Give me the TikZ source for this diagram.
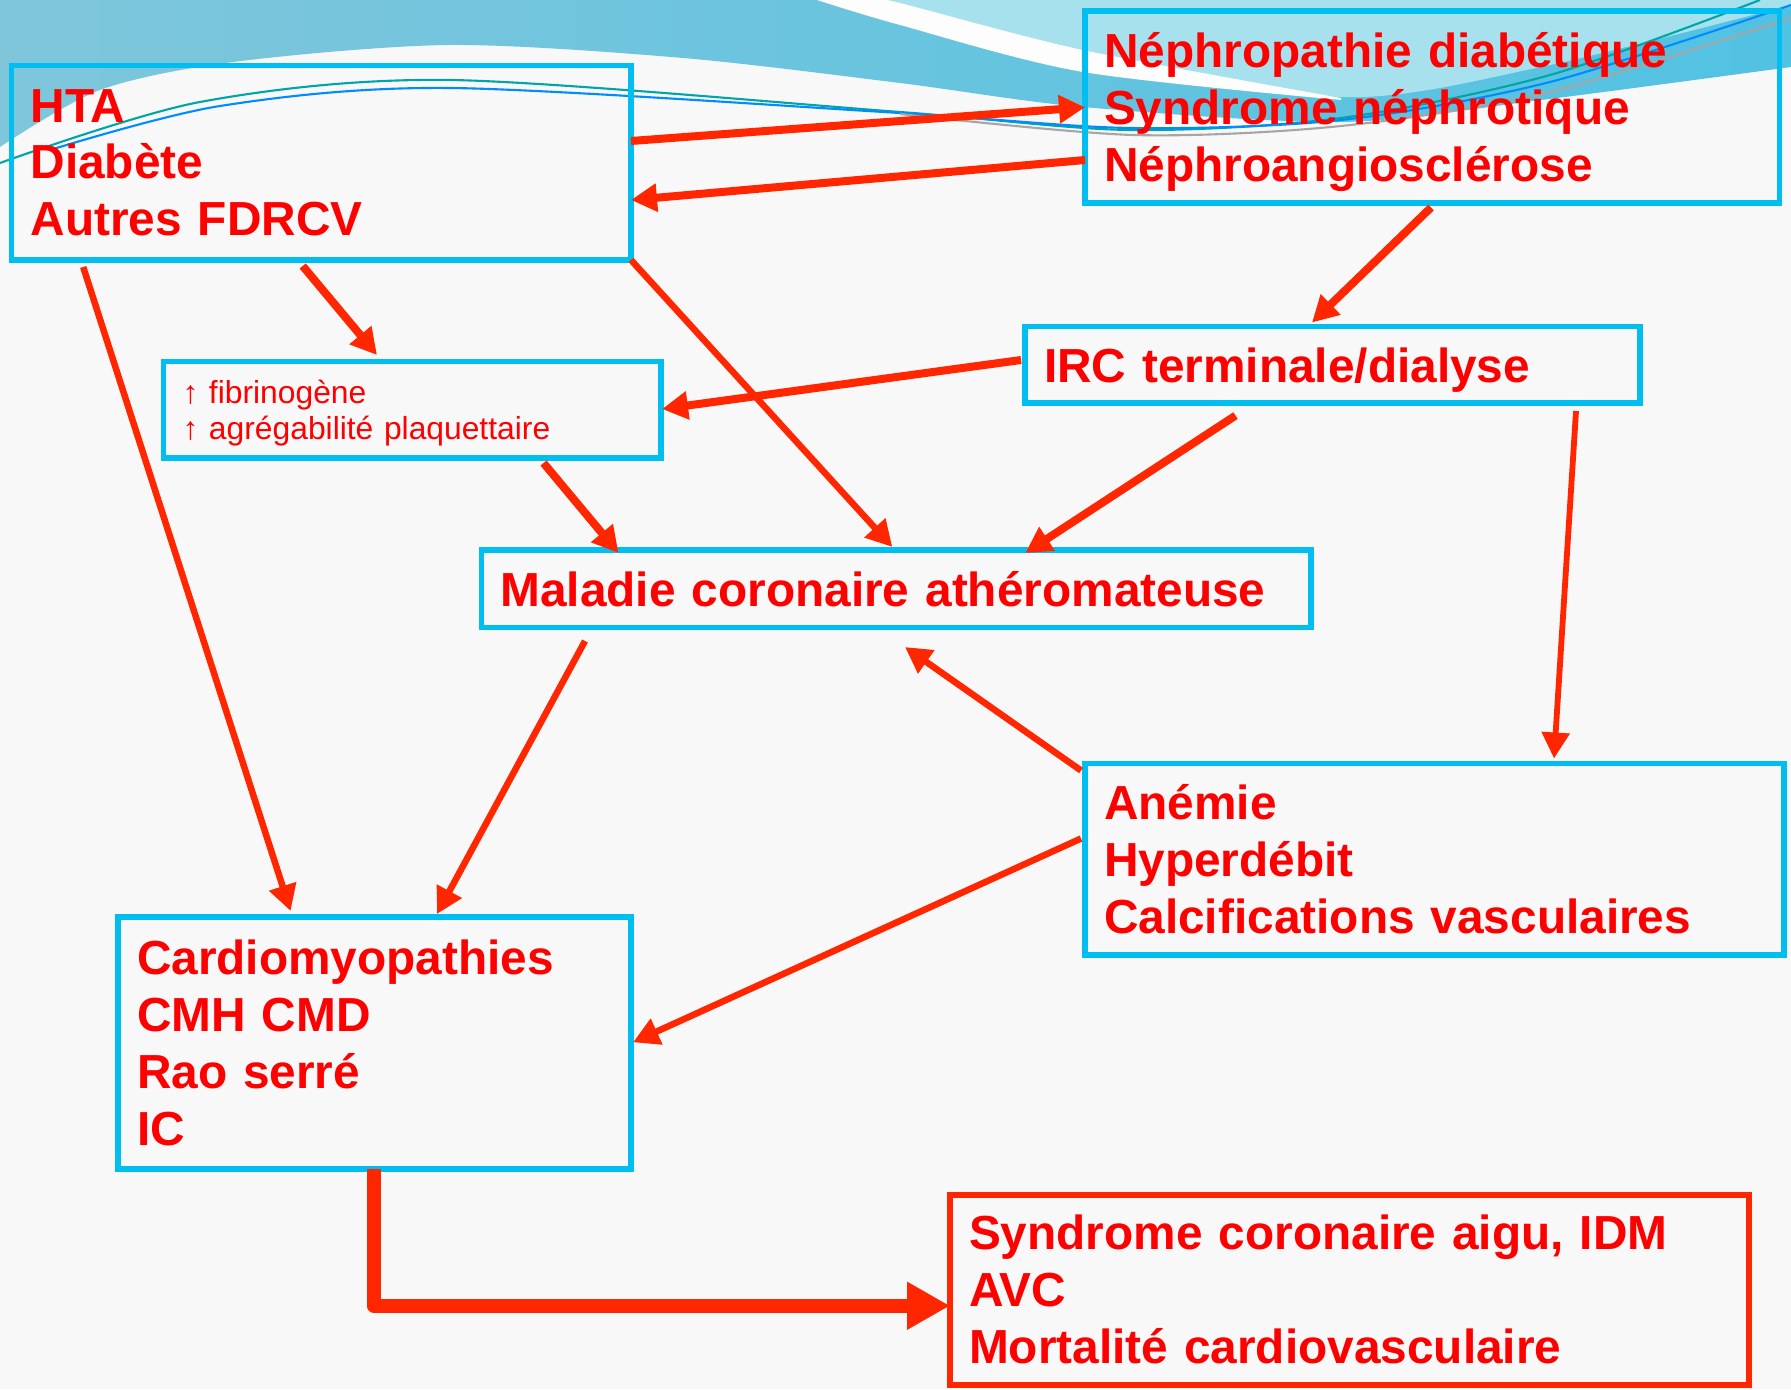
\documentclass[tikz,border=0pt]{standalone}
\usepackage{fontspec}
\setmainfont{Liberation Sans}
\usepackage{tikz}
\usetikzlibrary{arrows.meta}
\definecolor{txtred}{RGB}{255,0,0}
\definecolor{arrred}{RGB}{255,38,0}
\definecolor{boxblue}{RGB}{0,190,240}
\definecolor{bgcol}{RGB}{248,248,248}
\definecolor{swoopa}{RGB}{127,198,219}
\definecolor{swoopb}{RGB}{125,211,230}
\definecolor{swoopc}{RGB}{82,194,226}
\definecolor{swoopd}{RGB}{168,225,238}

\begin{document}
\begin{tikzpicture}[
  box/.style={draw=boxblue, line width=0.055cm, anchor=north west, outer sep=0pt,
    inner xsep=0.19cm, inner ysep=0pt, align=left, text=txtred,
    font=\bfseries\fontsize{13.6}{16.2}\selectfont},
  smallbox/.style={box, font=\fontsize{9.05}{10.4}\selectfont},
  redbox/.style={box, draw=arrred, line width=0.06cm},
  arr/.style={draw=arrred, line width=0.08cm, -{Triangle[length=0.26cm,width=0.27cm]}},
  thinarr/.style={arr, line width=0.065cm},
  bigarr/.style={draw=arrred, line width=0.145cm, line join=round, -{Triangle[length=0.43cm,width=0.45cm]}},
  swline/.style={line width=0.6pt}
]
\useasboundingbox (0,0) rectangle (17.91,-13.89);
\fill[bgcol] (0,0) rectangle (17.91,-13.89);
\shade[left color=swoopa, middle color=swoopb, right color=swoopc]
  (0,0) -- plot[smooth] coordinates {(0,-1.47) (1,-0.9) (2.33,-0.62) (4.5,-0.45) (6.83,-0.58) (9,-0.83) (10.83,-1.07) (13.41,-1.22) (15.41,-1.0) (17.91,-0.67)} -- (17.91,0) -- cycle;
\fill[swoopd] (8.8,0) -- plot[smooth] coordinates {(9,-0.03) (10.83,-0.5) (13.41,-0.97) (15.41,-0.67) (17.91,-0.05)} -- (17.91,0) -- cycle;
\fill[white!70!bgcol] plot[smooth] coordinates {(8.17,0) (9,-0.25) (10.83,-0.72) (13.41,-1.0)} -- plot[smooth] coordinates {(13.41,-0.98) (10.83,-0.5) (9,-0.03) (8.8,0)} -- cycle;
\draw[swline, teal!70!cyan] plot[smooth] coordinates {(0,-1.63) (2.0,-1.02) (4.5,-0.80) (9,-1.12) (11.3,-1.3) (13.41,-1.18) (15.5,-0.75) (17.6,0)};
\draw[swline, blue!45!cyan] plot[smooth] coordinates {(0.5,-1.5) (2.2,-1.06) (4.5,-0.88) (9,-1.13) (11.3,-1.28) (13.41,-1.2) (15.5,-0.82) (17.91,-0.05)};
\draw[swline, gray!70] plot[smooth] coordinates {(9,-1.14) (11.33,-1.35) (13.41,-1.26) (15.5,-0.92) (17.91,-0.18)};

\node[box, text width=5.815cm, minimum height=1.945cm] (risk) at (0.115,-0.655) {HTA\\Diabète\\Autres FDRCV};
\node[box, text width=6.565cm, minimum height=1.92cm] (nephro) at (10.85,-0.11) {Néphropathie diabétique\\Syndrome néphrotique\\\smash{Néphroangiosclérose}};
\node[box, text width=5.77cm, minimum height=0.765cm, text depth=0pt] (irc) at (10.25,-3.265) {IRC terminale/dialyse};
\node[smallbox, text width=4.595cm, minimum height=0.965cm] (fibri) at (1.635,-3.615) {↑ fibrinogène\\\smash{↑ agrégabilité plaquettaire}};
\node[box, text width=7.915cm, minimum height=0.775cm] (corona) at (4.815,-5.50) {Maladie coronaire athéromateuse};
\node[box, text width=6.61cm, minimum height=1.915cm] (anemie) at (10.85,-7.635) {Anémie\\Hyperdébit\\Calcifications vasculaires};
\node[box, text width=4.75cm, minimum height=2.52cm] (cardio) at (1.18,-9.17) {Cardiomyopathies\\CMH CMD\\Rao serré\\IC};
\node[redbox, text width=7.61cm, minimum height=1.905cm] (events) at (9.50,-11.945) {Syndrome coronaire aigu, IDM\\AVC\\Mortalité cardiovasculaire};

\draw[arr] ([yshift=-0.755cm]risk.north east) -- ([yshift=-0.963cm]nephro.north west);
\draw[arr] ([yshift=-1.49cm]nephro.north west) -- ([yshift=-1.345cm]risk.north east);
\draw[arr] ([shift={(2.912,-0.06)}]risk.south west) -- ([shift={(2.135,0.065)}]fibri.north west);
\draw[arr] ([shift={(3.80,-0.05)}]fibri.south west) -- ([shift={(1.37,-0.03)}]corona.north west);
\draw[thinarr] (risk.south east) -- ([shift={(4.108,0.03)}]corona.north west);
\draw[arr] ([shift={(-0.04,-0.335)}]irc.north west) -- ([shift={(0.01,-0.475)}]fibri.north east);
\draw[arr] ([shift={(3.46,-0.045)}]nephro.south west) -- ([shift={(2.87,0.04)}]irc.north west);
\draw[arr] ([shift={(2.105,-0.126)}]irc.south west) -- ([shift={(5.438,-0.03)}]corona.north west);
\draw[thinarr, line width=0.058cm] ([shift={(5.51,-0.08)}]irc.south west) -- ([shift={(4.69,0.05)}]anemie.north west);
\draw[thinarr] ([shift={(-0.04,-0.07)}]anemie.north west) -- ([shift={(4.235,-0.195)}]corona.south west);
\draw[thinarr] ([shift={(0.717,-0.07)}]risk.south west) -- ([shift={(1.726,0.06)}]cardio.north west);
\draw[thinarr] ([shift={(1.035,-0.135)}]corona.south west) -- ([shift={(3.19,0.03)}]cardio.north west);
\draw[thinarr] ([shift={(-0.04,-0.75)}]anemie.north west) -- ([shift={(0.02,-1.253)}]cardio.north east);
\draw[bigarr] ([xshift=2.56cm]cardio.south west) |- ([yshift=-0.16cm]events.west);
\end{tikzpicture}
\end{document}
